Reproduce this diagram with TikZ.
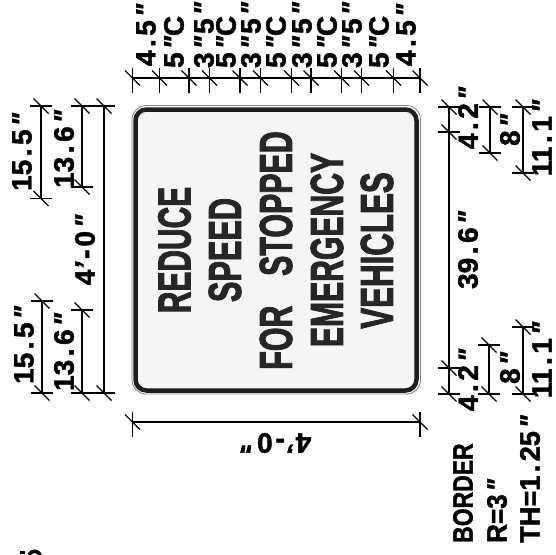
\documentclass[tikz,border=0pt]{standalone}
\usepackage{fontspec}
\setmainfont{Liberation Sans}
\newcommand{\myq}{\kern3pt{\itshape\textquotedbl}}
\newcommand{\myp}{{\itshape'}}
\newcommand{\mydot}{\kern3.5pt.\kern3.5pt}
\newcommand{\myhy}{\kern3pt-\kern3pt}
\newcommand{\vtick}[2]{\draw[dimline] (#1,#2-10)--(#1,#2+15); \draw[dimline] (#1-7.5,#2-7.5)--(#1+7.5,#2+7.5);}
\newcommand{\htick}[2]{\draw[dimline] (#1-11,#2)--(#1+11,#2); \draw[dimline] (#1-7.5,#2-7.5)--(#1+7.5,#2+7.5);}
\begin{document}
\begin{tikzpicture}[x=1pt,y=-1pt,
  dimline/.style={line width=1.1pt,black},
  dimlabel/.style={rotate=90,font=\bfseries\fontsize{28}{28}\selectfont\addfontfeature{FakeBold=1.6},inner sep=0pt,anchor=center},
  signtext/.style={rotate=90,font=\bfseries\fontsize{46}{46}\selectfont\addfontfeature{FakeBold=2.6},inner sep=0pt,anchor=center,text=black!85},
  borderlabel/.style={rotate=90,font=\bfseries\fontsize{28}{28}\selectfont\addfontfeature{FakeBold=1.6},inner sep=0pt,anchor=west}]
\useasboundingbox (0,0) rectangle (556,554);
\fill[white] (0,0) rectangle (556,554);
% sign
\draw[line width=.8pt,black!50,fill=white,rounded corners=14pt] (132,105.5) rectangle (420.5,394);
\draw[line width=4.5pt,black!88,fill=black!4,rounded corners=11pt] (135.5,109.5) rectangle (416.5,390.5);
\node[signtext,xscale=.65] (l1) at (174.5,250) {REDUCE};
\node[signtext,xscale=.667] (l2) at (225,250) {SPEED};
\node[signtext,xscale=.66] (l3) at (276,250.5) {FOR\hspace{45pt}STOPPED};
\node[signtext,xscale=.655] (l4) at (327,250) {EMERGENCY};
\node[signtext,xscale=.68] (l5) at (377,250.5) {VEHICLES};
% top
\coordinate (t0) at (132.5,78); \coordinate (t1) at (420,78);
\draw[dimline] (t0)--(t1);
\foreach \x in {132.5,159.5,189,209.5,240,260.5,291.5,311,341.5,361.5,393.5,420} {\vtick{\x}{78}}
\node[dimlabel] (a1) at (146,35) {4\mydot5\myq};
\node[dimlabel] (a2) at (174,52) {5\myq};
\node[dimlabel] (a3) at (204,52) {3\myq};
\node[dimlabel] (a4) at (226,52) {5\myq};
\node[dimlabel] (a5) at (251,52) {3\myq};
\node[dimlabel] (a6) at (276,52) {5\myq};
\node[dimlabel] (a7) at (302,52) {3\myq};
\node[dimlabel] (a8) at (327,52) {5\myq};
\node[dimlabel] (a9) at (352,52) {3\myq};
\node[dimlabel] (a10) at (379,52) {5\myq};
\node[dimlabel] (a11) at (406,35) {4\mydot5\myq};
\node[dimlabel] (b1) at (174,26) {C};
\node[dimlabel] (b2) at (204,18) {5\myq};
\node[dimlabel] (b3) at (226,26) {C};
\node[dimlabel] (b4) at (251,18) {5\myq};
\node[dimlabel] (b5) at (276,26) {C};
\node[dimlabel] (b6) at (302,18) {5\myq};
\node[dimlabel] (b7) at (327,26) {C};
\node[dimlabel] (b8) at (352,18) {5\myq};
\node[dimlabel] (b9) at (379,26) {C};
% left
\coordinate (p1) at (41,106); \coordinate (p2) at (41,198.5);
\draw[dimline] (p1)--(p2); \htick{41}{106} \htick{41}{198.5}
\coordinate (p3) at (82,106); \coordinate (p4) at (82,187);
\draw[dimline] (p3)--(p4); \htick{82}{106} \htick{82}{187}
\coordinate (p5) at (104,106); \coordinate (p6) at (104,393);
\draw[dimline] (p5)--(p6); \htick{104}{106} \htick{104}{393}
\coordinate (p7) at (42,301); \coordinate (p8) at (42,393);
\draw[dimline] (p7)--(p8); \htick{42}{301} \htick{42}{393}
\coordinate (p9) at (82,310); \coordinate (p10) at (82,393);
\draw[dimline] (p9)--(p10); \htick{82}{310} \htick{82}{393}
\node[dimlabel] (c1) at (22,152) {15\mydot5\myq};
\node[dimlabel] (c2) at (64,149) {13\mydot6\myq};
\node[dimlabel] (c3) at (85,250) {4\myp\myhy0\myq};
\node[dimlabel] (c4) at (24,345) {15\mydot5\myq};
\node[dimlabel] (c5) at (64,352) {13\mydot6\myq};
% bottom
\coordinate (q1) at (132.5,422); \coordinate (q2) at (420,422);
\draw[dimline] (q1)--(q2); \vtick{132.5}{422} \vtick{420}{422}
\node[dimlabel,rotate=90] (d1) at (276,443) {4\myp\myhy0\myq};
% right
\coordinate (r1) at (449,107); \coordinate (r2) at (449,394);
\draw[dimline] (r1)--(r2);
\htick{449}{107} \htick{449}{132} \htick{449}{368} \htick{449}{394}
\coordinate (s1) at (490,107); \coordinate (s2) at (490,153);
\draw[dimline] (s1)--(s2); \htick{490}{107} \htick{490}{153}
\coordinate (s3) at (489,345); \coordinate (s4) at (489,394);
\draw[dimline] (s3)--(s4); \htick{489}{345} \htick{489}{394}
\coordinate (u1) at (523,107); \coordinate (u2) at (523,173);
\draw[dimline] (u1)--(u2); \htick{523}{107} \htick{523}{173}
\coordinate (u3) at (523,327); \coordinate (u4) at (523,394);
\draw[dimline] (u3)--(u4); \htick{523}{327} \htick{523}{394}
\node[dimlabel] (e1) at (468,118) {4\mydot2\myq};
\node[dimlabel] (e2) at (468,380) {4\mydot2\myq};
\node[dimlabel] (e3) at (468,250) {39\mydot6\myq};
\node[dimlabel] (e4) at (510,130) {8\myq};
\node[dimlabel] (e5) at (510,368) {8\myq};
\node[dimlabel] (e6) at (542,138) {11\mydot1\myq};
\node[dimlabel] (e7) at (542,360) {11\mydot1\myq};
\node[borderlabel,xscale=.82] (f1) at (463,543) {BORDER};
\node[borderlabel,xscale=.93] (f2) at (497,543) {R=3\myq};
\node[borderlabel,xscale=.97] (f3) at (530,543) {TH=1\mydot25\myq};
% clipped remnant at the lower edge
\fill[black] (20,550.5) rectangle (24.5,554);
\draw[black,line width=3.5pt] (29,555) .. controls (31,550) and (38,550) .. (40.5,555);
\end{tikzpicture}
\end{document}
